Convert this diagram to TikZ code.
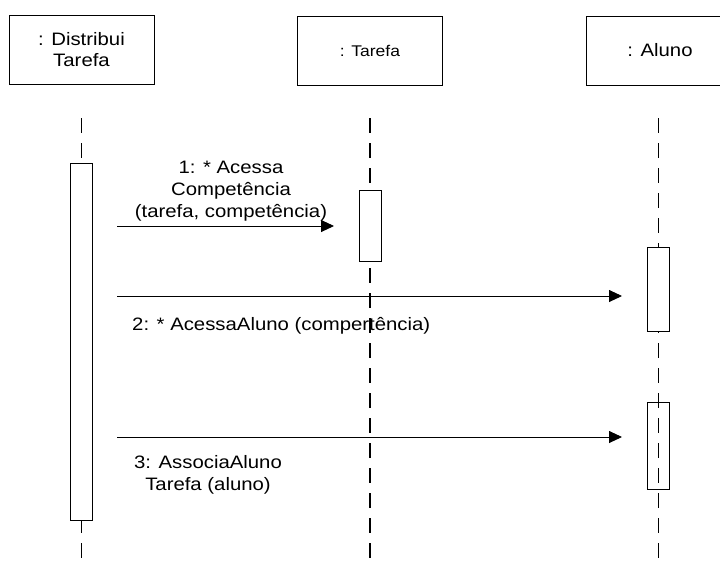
\documentclass[tikz,border=0pt]{standalone}
\usepackage{fontspec}
\setmainfont{Liberation Sans}[FakeStretch=1.13]
\usetikzlibrary{arrows.meta}
\tikzset{
  obj/.style={draw=black, line width=0.9pt, minimum width=145pt, minimum height=69pt, inner sep=0pt, align=center, font=\fontsize{18}{21}\selectfont},
  act/.style={draw=black, line width=0.9pt, minimum width=22pt, inner sep=0pt},
  life/.style={draw=black, line width=1.2pt, dash pattern=on 15pt off 10pt},
  msg/.style={draw=black, line width=0.9pt, -{Triangle[length=13pt,width=12pt]}},
  lbl/.style={inner sep=0pt, align=center, font=\fontsize{18}{22}\selectfont}
}
\begin{document}
\begin{tikzpicture}[x=1pt, y=-1pt]
\useasboundingbox (0,0) rectangle (720,565);
\clip (0,0) rectangle (720,565);
% objects
\node[obj] (o1) at (81.5,50) {: Distribui\\Tarefa};
\node[obj, font=\fontsize{15.5}{18}\selectfont] (o2) at (370,50.5) {: Tarefa};
\node[obj] (o3) at (658.5,50.5) {\hspace*{3pt}: Aluno};
% lifelines
\coordinate (l1t) at (81.5,118);
\coordinate (l1b) at (81.5,565);
\coordinate (l2t) at (370,118);
\coordinate (l2b) at (370,565);
\coordinate (l3t) at (658.5,118);
\coordinate (l3b) at (658.5,565);
\draw[life] (l1t) -- (l1b);
\draw[life] (l2t) -- (l2b);
\draw[life] (l3t) -- (l3b);
% activations
\node[act, fill=white, minimum height=357pt] (a1) at (81.5,341.5) {};
\node[act, fill=white, minimum height=71pt] (a2) at (370,225.5) {};
\node[act, fill=white, minimum height=84pt] (a3) at (658.5,289) {};
\node[act, minimum height=87pt] (a4) at (658.5,445.5) {};
% messages
\coordinate (m1s) at (117,226);
\coordinate (m1e) at (334,226);
\coordinate (m2s) at (117,296);
\coordinate (m2e) at (622,296);
\coordinate (m3s) at (117,437);
\coordinate (m3e) at (622,437);
\draw[msg] (m1s) -- (m1e);
\draw[msg] (m2s) -- (m2e);
\draw[msg] (m3s) -- (m3e);
% labels
\node[lbl, anchor=base] (t1) at (231,217) {1: * Acessa\\Competência\\(tarefa, competência)};
\node[lbl, anchor=base west] (t2) at (132,330) {2: * AcessaAluno (compertência)};
\node[lbl, anchor=base] (t3) at (208,490) {3: AssociaAluno\\Tarefa (aluno)};
\end{tikzpicture}
\end{document}
